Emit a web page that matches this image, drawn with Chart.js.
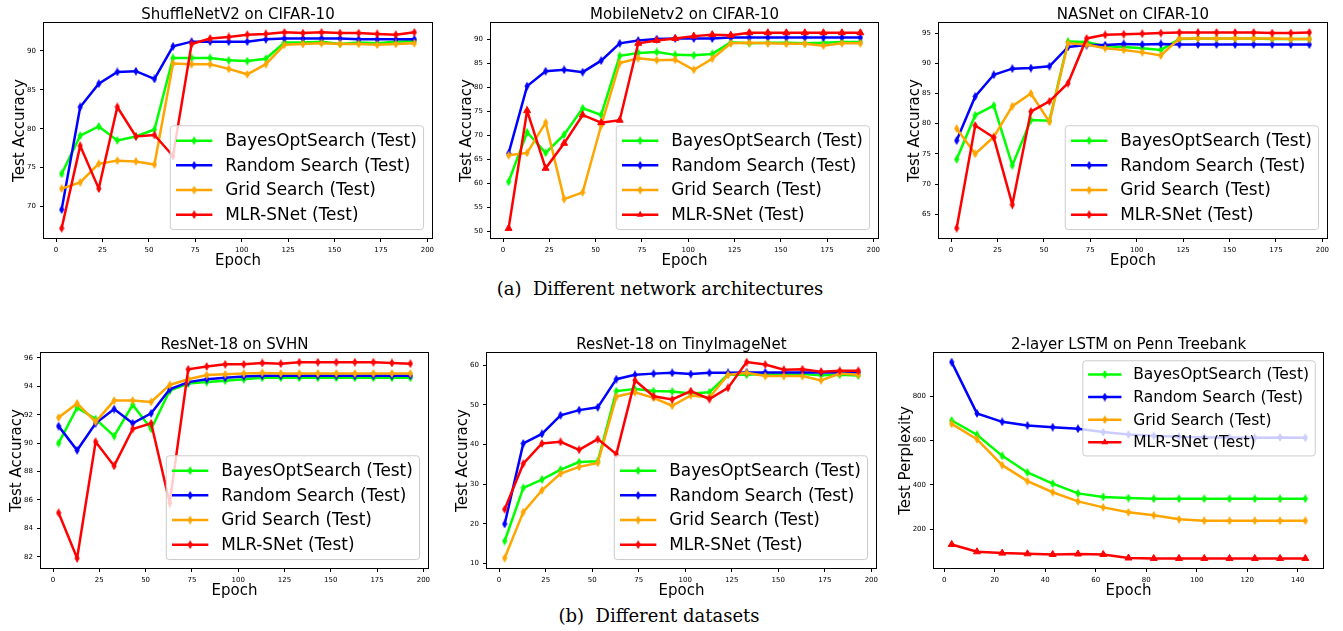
<!DOCTYPE html>
<html lang="en">
<head>
    <meta charset="UTF-8">
    <title>Learning rate schedules: test curves</title>
    <script src="https://cdn.jsdelivr.net/npm/chart.js"></script>
    <style>
        body {
            margin: 0;
            background: #fff;
            width: 1343px;
            height: 631px;
            position: relative;
            overflow: hidden;
        }

        canvas {
            position: absolute;
        }

        .caption {
            position: absolute;
            font-family: 'DejaVu Serif', serif;
            font-size: 18px;
            color: #000;
            white-space: pre;
            transform: translate(-50%, -50%);
        }
    </style>
</head>
<body>

<div class="caption" style="left:660px; top:288px">(a)  Different network architectures</div>
<div class="caption" style="left:659px; top:615px">(b)  Different datasets</div>

<script>
    const epochsLong = [3, 13, 23, 33, 43, 53, 63, 73, 83, 93, 103, 113, 123, 133, 143, 153, 163, 173, 183, 193];
    const epochsLstm = [3, 13, 23, 33, 43, 53, 63, 73, 83, 93, 103, 113, 123, 133, 143];
    const seriesNames = ['BayesOptSearch (Test)', 'Random Search (Test)', 'Grid Search (Test)', 'MLR-SNet (Test)'];

    // tick labels
    const epochTicks = [0, 25, 50, 75, 100, 125, 150, 175, 200];
    const lstmEpochTicks = [0, 20, 40, 60, 80, 100, 120, 140];
    const shuffleTicks = [70, 75, 80, 85, 90];
    const mobileTicks = [50, 55, 60, 65, 70, 75, 80, 85, 90];
    const nasTicks = [65, 70, 75, 80, 85, 90, 95];
    const svhnTicks = [82, 84, 86, 88, 90, 92, 94, 96];
    const tinyTicks = [10, 20, 30, 40, 50, 60];
    const lstmTicks = [200, 400, 600, 800];

    // ShuffleNetV2 on CIFAR-10
    const shuffleBayes = [74.2, 79.1, 80.3, 78.5, 79.0, 79.9, 89.1, 89.1, 89.1, 88.8, 88.7, 89.0, 91.1, 91.1, 91.2, 90.9, 91.1, 91.0, 91.2, 91.3];
    const shuffleRandom = [69.6, 82.8, 85.8, 87.3, 87.4, 86.4, 90.6, 91.2, 91.2, 91.2, 91.2, 91.5, 91.6, 91.6, 91.6, 91.6, 91.5, 91.5, 91.5, 91.5];
    const shuffleGrid = [72.3, 73.1, 75.5, 75.9, 75.8, 75.4, 88.4, 88.3, 88.3, 87.7, 87.0, 88.3, 90.8, 90.9, 91.0, 90.9, 90.9, 90.8, 90.9, 91.0];
    const shuffleMlr = [67.2, 77.8, 72.3, 82.8, 79.0, 79.2, 76.5, 90.9, 91.6, 91.8, 92.1, 92.2, 92.4, 92.3, 92.4, 92.3, 92.3, 92.2, 92.1, 92.4];

    // MobileNetv2 on CIFAR-10
    const mobileBayes = [60.3, 70.6, 66.3, 70.1, 75.6, 74.2, 86.5, 87.1, 87.3, 86.7, 86.6, 86.9, 89.3, 89.1, 89.2, 89.2, 89.1, 89.2, 89.4, 89.4];
    const mobileRandom = [66.2, 80.2, 83.3, 83.6, 83.1, 85.5, 89.1, 89.7, 90.0, 90.1, 90.1, 90.1, 90.3, 90.3, 90.3, 90.3, 90.3, 90.3, 90.3, 90.3];
    const mobileGrid = [65.8, 66.3, 72.6, 56.7, 58.1, 72.0, 85.0, 86.0, 85.6, 85.7, 83.6, 85.9, 89.1, 89.2, 89.1, 89.0, 89.0, 88.6, 89.1, 89.1];
    const mobileMlr = [50.6, 75.1, 63.1, 68.3, 74.2, 72.6, 73.1, 89.1, 89.7, 90.1, 90.6, 90.9, 90.8, 91.3, 91.3, 91.3, 91.3, 91.3, 91.3, 91.3];

    // NASNet on CIFAR-10
    const nasBayes = [74.1, 81.4, 83.0, 73.1, 80.6, 80.5, 93.6, 93.5, 92.8, 92.7, 92.5, 92.2, 94.0, 94.1, 94.1, 94.1, 94.1, 94.0, 94.0, 94.0];
    const nasRandom = [77.2, 84.5, 88.1, 89.1, 89.2, 89.5, 92.7, 93.0, 93.0, 93.2, 93.1, 93.2, 93.1, 93.1, 93.1, 93.1, 93.1, 93.1, 93.1, 93.1];
    const nasGrid = [79.2, 75.0, 77.8, 82.9, 85.0, 80.3, 93.3, 93.1, 92.5, 92.2, 91.8, 91.3, 94.1, 94.1, 94.1, 94.1, 94.1, 94.1, 94.0, 94.0];
    const nasMlr = [62.7, 79.7, 77.7, 66.6, 82.0, 83.7, 86.7, 94.1, 94.7, 94.8, 94.9, 95.0, 95.1, 95.1, 95.1, 95.1, 95.1, 95.0, 95.0, 95.1];

    // ResNet-18 on SVHN
    const svhnBayes = [90.0, 92.5, 91.7, 90.5, 92.7, 91.0, 93.7, 94.2, 94.3, 94.4, 94.5, 94.6, 94.6, 94.6, 94.6, 94.6, 94.6, 94.6, 94.6, 94.6];
    const svhnRandom = [91.2, 89.5, 91.4, 92.4, 91.4, 92.1, 93.8, 94.3, 94.5, 94.6, 94.7, 94.75, 94.75, 94.75, 94.75, 94.75, 94.75, 94.75, 94.75, 94.75];
    const svhnGrid = [91.8, 92.8, 91.5, 93.0, 93.0, 92.9, 94.1, 94.5, 94.8, 94.85, 94.9, 94.95, 94.9, 94.9, 94.9, 94.9, 94.9, 94.9, 94.9, 94.9];
    const svhnMlr = [85.1, 81.9, 90.1, 88.4, 91.0, 91.4, 85.8, 95.2, 95.4, 95.55, 95.55, 95.65, 95.6, 95.7, 95.7, 95.7, 95.7, 95.7, 95.65, 95.6];

    // ResNet-18 on TinyImageNet
    const tinyBayes = [15.7, 29.1, 31.2, 33.7, 35.6, 35.8, 53.5, 54.0, 53.5, 53.4, 52.9, 53.2, 57.7, 57.6, 57.8, 57.8, 57.8, 57.5, 57.6, 57.4];
    const tinyRandom = [20.0, 40.3, 42.7, 47.4, 48.7, 49.4, 56.5, 57.6, 57.9, 58.1, 57.8, 58.1, 58.1, 58.2, 58.2, 58.2, 58.2, 58.2, 58.2, 58.2];
    const tinyGrid = [11.4, 23.0, 28.5, 32.7, 34.4, 35.4, 52.1, 53.2, 51.8, 49.8, 52.4, 51.9, 57.6, 58.1, 57.3, 57.3, 57.3, 56.2, 57.9, 57.6];
    const tinyMlr = [23.7, 35.2, 40.3, 40.7, 38.7, 41.4, 37.6, 56.2, 52.2, 51.4, 53.5, 51.5, 54.3, 60.8, 60.2, 58.9, 59.0, 58.4, 58.6, 58.6];

    // 2-layer LSTM on Penn Treebank
    const lstmBayes = [690, 626, 531, 456, 406, 362, 346, 341, 338, 338, 338, 338, 338, 338, 338];
    const lstmRandom = [953, 722, 684, 668, 660, 653, 638, 627, 621, 617, 614, 614, 612, 614, 612];
    const lstmGrid = [675, 606, 489, 417, 367, 326, 299, 277, 263, 245, 239, 239, 239, 239, 239];
    const lstmMlr = [132, 99, 93, 90, 87, 89, 87, 71, 69, 69, 69, 69, 69, 69, 69];

    const seriesColors = ['#00ff00', '#0000ff', '#ffa500', '#ff0000'];

    // box = axes rectangle on the page [left, top, right, bottom]
    const panels = [
        {box: [44, 23, 432, 238], title: 'ShuffleNetV2 on CIFAR-10', yTitle: 'Test Accuracy', yPad: 11.2,
         xs: epochsLong, xTicks: epochTicks, xRange: [-6.5, 202.5], yTicks: shuffleTicks, yRange: [65.95, 93.6],
         series: [shuffleBayes, shuffleRandom, shuffleGrid, shuffleMlr], mlrTriangle: false, loc: 'lower right', legendSize: 16.9},
        {box: [491, 23, 878, 238], title: 'MobileNetv2 on CIFAR-10', yTitle: 'Test Accuracy', yPad: 11.2,
         xs: epochsLong, xTicks: epochTicks, xRange: [-6.5, 202.5], yTicks: mobileTicks, yRange: [48.6, 93.33],
         series: [mobileBayes, mobileRandom, mobileGrid, mobileMlr], mlrTriangle: true, loc: 'lower right', legendSize: 16.9},
        {box: [939, 23, 1327, 238], title: 'NASNet on CIFAR-10', yTitle: 'Test Accuracy', yPad: 11.2,
         xs: epochsLong, xTicks: epochTicks, xRange: [-6.5, 202.5], yTicks: nasTicks, yRange: [61.08, 96.66],
         series: [nasBayes, nasRandom, nasGrid, nasMlr], mlrTriangle: false, loc: 'lower right', legendSize: 16.9},
        {box: [41, 353, 428, 568], title: 'ResNet-18 on SVHN', yTitle: 'Test Accuracy', yPad: 11.2,
         xs: epochsLong, xTicks: epochTicks, xRange: [-6.5, 202.5], yTicks: svhnTicks, yRange: [81.21, 96.35],
         series: [svhnBayes, svhnRandom, svhnGrid, svhnMlr], mlrTriangle: false, loc: 'lower right', legendSize: 16.9},
        {box: [487, 353, 876, 568], title: 'ResNet-18 on TinyImageNet', yTitle: 'Test Accuracy', yPad: 11.2,
         xs: epochsLong, xTicks: epochTicks, xRange: [-6.5, 202.5], yTicks: tinyTicks, yRange: [8.9, 63.1],
         series: [tinyBayes, tinyRandom, tinyGrid, tinyMlr], mlrTriangle: false, loc: 'lower right', legendSize: 16.9},
        {box: [934, 353, 1323, 568], title: '2-layer LSTM on Penn Treebank', yTitle: 'Test Perplexity', yPad: 7.5,
         xs: epochsLstm, xTicks: lstmEpochTicks, xRange: [-4, 150], yTicks: lstmTicks, yRange: [26, 994],
         series: [lstmBayes, lstmRandom, lstmGrid, lstmMlr], mlrTriangle: true, loc: 'upper right', legendSize: 15.5}
    ];

    Chart.defaults.font.family = "'DejaVu Sans', sans-serif";
    Chart.defaults.color = '#000';

    // matplotlib style thin diamond marker
    function thinDiamond(color) {
        const c = document.createElement('canvas');
        c.width = 6;
        c.height = 9;
        const g = c.getContext('2d');
        g.fillStyle = color;
        g.beginPath();
        g.moveTo(3, 0);
        g.lineTo(5.6, 4.5);
        g.lineTo(3, 9);
        g.lineTo(0.4, 4.5);
        g.closePath();
        g.fill();
        return c;
    }

    function drawMarker(ctx, style, color, x, y) {
        if (style instanceof HTMLCanvasElement) {
            ctx.drawImage(style, x - style.width / 2, y - style.height / 2);
        } else {
            const r = 4;
            ctx.fillStyle = color;
            ctx.beginPath();
            ctx.moveTo(x, y - r);
            ctx.lineTo(x + r * 0.87, y + r * 0.5);
            ctx.lineTo(x - r * 0.87, y + r * 0.5);
            ctx.closePath();
            ctx.fill();
        }
    }

    // full box around the axes + legend inside the axes
    const frameAndLegend = {
        id: 'frameAndLegend',
        afterDraw(chart, args, opts) {
            const ctx = chart.ctx;
            const a = chart.chartArea;
            ctx.save();
            ctx.strokeStyle = '#000';
            ctx.lineWidth = 1;
            ctx.strokeRect(a.left - 0.5, a.top - 0.5, a.right - a.left + 1, a.bottom - a.top + 1);

            const fs = opts.size;
            const sets = chart.data.datasets;
            ctx.font = fs + "px 'DejaVu Sans'";
            const textW = Math.max(...sets.map(d => ctx.measureText(d.label).width));
            const padL = 0.34 * fs, handle = 2.15 * fs, gap = 0.76 * fs, padR = 0.4 * fs;
            const row = 1.46 * fs, vpad = 0.88 * fs, margin = 0.5 * fs;
            const w = padL + handle + gap + textW + padR;
            const h = row * (sets.length - 1) + 2 * vpad;
            const x = a.right - margin - w;
            const y = opts.loc === 'upper right' ? a.top + margin : a.bottom - margin - h;

            const r = 3;
            ctx.beginPath();
            ctx.moveTo(x + r, y);
            ctx.arcTo(x + w, y, x + w, y + h, r);
            ctx.arcTo(x + w, y + h, x, y + h, r);
            ctx.arcTo(x, y + h, x, y, r);
            ctx.arcTo(x, y, x + w, y, r);
            ctx.closePath();
            ctx.fillStyle = 'rgba(255,255,255,0.8)';
            ctx.fill();
            ctx.strokeStyle = '#cccccc';
            ctx.stroke();

            sets.forEach((d, i) => {
                const ry = y + vpad + i * row;
                ctx.strokeStyle = d.borderColor;
                ctx.lineWidth = 2.5;
                ctx.beginPath();
                ctx.moveTo(x + padL, ry);
                ctx.lineTo(x + padL + handle, ry);
                ctx.stroke();
                drawMarker(ctx, d.pointStyle, d.borderColor, x + padL + handle / 2, ry);
                ctx.fillStyle = '#000';
                ctx.textBaseline = 'middle';
                ctx.textAlign = 'left';
                ctx.fillText(d.label, x + padL + handle + gap, ry + 1);
            });
            ctx.restore();
        }
    };

    panels.forEach(p => {
        const [L, T, R, B] = p.box;
        const canvas = document.createElement('canvas');
        canvas.width = R - L + 52;
        canvas.height = B - T + 56;
        canvas.style.left = (L - 44) + 'px';
        canvas.style.top = (T - 24) + 'px';
        document.body.appendChild(canvas);

        const datasets = p.series.map((ys, k) => {
            const color = seriesColors[k];
            const marker = (k === 3 && p.mlrTriangle) ? 'triangle' : thinDiamond(color);
            return {
                label: seriesNames[k],
                data: p.xs.map((x, i) => ({x: x, y: ys[i]})),
                borderColor: color,
                backgroundColor: color,
                borderWidth: 2.5,
                pointStyle: marker,
                pointRadius: 4,
                pointBorderWidth: 1,
                pointBorderColor: color,
                pointBackgroundColor: color,
                tension: 0,
                order: 3 - k
            };
        });

        const axisGrid = {display: true, drawOnChartArea: false, drawTicks: true, tickLength: 4, tickColor: '#000', tickWidth: 1};

        new Chart(canvas.getContext('2d'), {
            type: 'line',
            data: {datasets: datasets},
            options: {
                responsive: false,
                animation: false,
                devicePixelRatio: 1,
                events: [],
                layout: {padding: {left: 0, right: 8, top: 0, bottom: 0}},
                plugins: {
                    legend: {display: false},
                    tooltip: {enabled: false},
                    title: {
                        display: true,
                        text: p.title,
                        fullSize: false,
                        color: '#000',
                        font: {size: 15, weight: 'normal', lineHeight: 1},
                        padding: {top: 8.8, bottom: 0.2}
                    },
                    frameAndLegend: {loc: p.loc, size: p.legendSize}
                },
                scales: {
                    x: {
                        type: 'linear',
                        min: p.xRange[0],
                        max: p.xRange[1],
                        afterBuildTicks: s => { s.ticks = p.xTicks.map(v => ({value: v})); },
                        afterFit: s => { s.height = 32; },
                        grid: axisGrid,
                        border: {display: false},
                        ticks: {font: {size: 7}, padding: 3.5, color: '#000', maxRotation: 0, autoSkip: false},
                        title: {display: true, text: 'Epoch', color: '#000', font: {size: 15}, padding: {top: 0, bottom: 0}}
                    },
                    y: {
                        min: p.yRange[0],
                        max: p.yRange[1],
                        afterBuildTicks: s => { s.ticks = p.yTicks.map(v => ({value: v})); },
                        afterFit: s => { s.width = 44; },
                        grid: axisGrid,
                        border: {display: false},
                        ticks: {font: {size: 7}, padding: 4, color: '#000'},
                        title: {display: true, text: p.yTitle, color: '#000', font: {size: 15}, padding: {top: p.yPad, bottom: 0}}
                    }
                }
            },
            plugins: [frameAndLegend]
        });
    });
</script>

</body>
</html>
